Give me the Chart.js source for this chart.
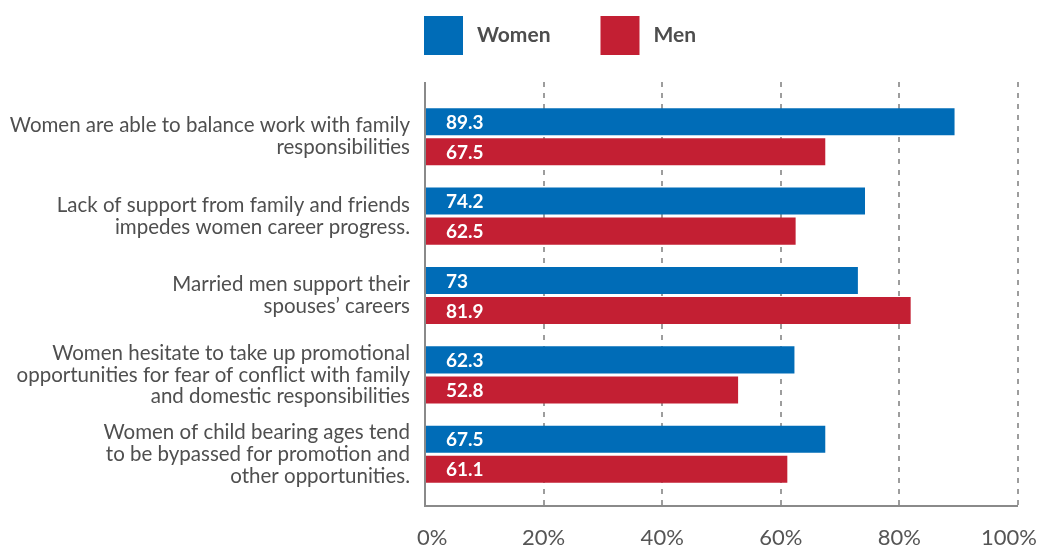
<!DOCTYPE html>
<html>
<head>
<meta charset="utf-8">
<script src="https://cdn.jsdelivr.net/npm/chart.js@4.4.1/dist/chart.umd.min.js"></script>
<style>
  html, body { margin: 0; background: #fff; }
  #wrap { width: 1039px; height: 548px; position: relative; }
</style>
</head>
<body>
<div id="wrap"><canvas id="myChart"></canvas></div>
<script>
const categories = [
  ["Women are able to balance work with family", "responsibilities"],
  ["Lack of support from family and friends", "impedes women career progress."],
  ["Married men support their", "spouses\u2019 careers"],
  ["Women hesitate to take up promotional", "opportunities for fear of conflict with family", "and domestic responsibilities"],
  ["Women of child bearing ages tend", "to be bypassed for promotion and", "other opportunities."],
];
const women = [89.3, 74.2, 73, 62.3, 67.5];
const men = [67.5, 62.5, 81.9, 52.8, 61.1];
const xTicks = [0, 20, 40, 60, 80, 100];

const BLUE = "#006cb7";
const RED = "#c31f33";
const FONT = "Lato, 'Open Sans', sans-serif";

const myChart = document.getElementById("myChart").getContext("2d");

// dashed gridlines, axis lines, tick labels, bar values and the legend
const decor = {
  id: "decor",
  beforeDatasetsDraw(chart) {
    const { ctx, chartArea } = chart;
    const x = chart.scales.x;
    const top = chartArea.top - 15;
    const bottom = chartArea.bottom + 12;
    ctx.save();
    ctx.strokeStyle = "#7d7d7d";
    ctx.lineWidth = 1.5;
    ctx.setLineDash([5, 6]);
    xTicks.forEach((v) => {
      if (v === 0) return;
      const px = Math.round(x.getPixelForValue(v));
      ctx.beginPath();
      ctx.moveTo(px, top);
      ctx.lineTo(px, bottom);
      ctx.stroke();
    });
    ctx.restore();
  },
  afterDatasetsDraw(chart) {
    const { ctx, chartArea, width } = chart;
    const x = chart.scales.x;
    const top = chartArea.top - 15;
    const bottom = chartArea.bottom + 12;
    const x0 = Math.round(x.getPixelForValue(0));
    const x100 = Math.round(x.getPixelForValue(100));

    // axis lines
    ctx.save();
    ctx.strokeStyle = "#8a8a8a";
    ctx.lineWidth = 2;
    ctx.beginPath();
    ctx.moveTo(x0, top);
    ctx.lineTo(x0, bottom);
    ctx.lineTo(x100, bottom);
    ctx.stroke();

    // x tick labels
    ctx.fillStyle = "#555";
    ctx.font = "22px " + FONT;
    ctx.textAlign = "center";
    ctx.textBaseline = "middle";
    xTicks.forEach((v) => {
      const label = v + "%";
      const w = ctx.measureText(label).width;
      let px = x.getPixelForValue(v);
      px = Math.max(px, x0 - 8 + w / 2);
      px = Math.min(px, width - 2 - w / 2);
      ctx.fillText(label, px, bottom + 32);
    });

    // values inside the bars
    ctx.fillStyle = "#fff";
    ctx.font = "bold 19px " + FONT;
    ctx.textAlign = "left";
    chart.data.datasets.forEach((ds, i) => {
      chart.getDatasetMeta(i).data.forEach((bar, j) => {
        ctx.fillText(String(ds.data[j]), chartArea.left + 21, bar.y + 1);
      });
    });

    // legend
    let lx = chartArea.left - 1;
    ctx.font = "bold 21px " + FONT;
    ctx.textBaseline = "middle";
    chart.data.datasets.forEach((ds) => {
      ctx.fillStyle = ds.backgroundColor;
      ctx.fillRect(lx, 16, 39, 39);
      lx += 39 + 14;
      ctx.fillStyle = "#4d4d4d";
      ctx.fillText(ds.label, lx, 35);
      lx += ctx.measureText(ds.label).width + 50;
    });
    ctx.restore();
  },
};

new Chart(myChart, {
  type: "bar",
  data: {
    labels: categories,
    datasets: [
      {
        label: "Women",
        data: women,
        backgroundColor: BLUE,
        categoryPercentage: 0.757,
        barPercentage: 0.9,
      },
      {
        label: "Men",
        data: men,
        backgroundColor: RED,
        categoryPercentage: 0.757,
        barPercentage: 0.9,
      },
    ],
  },
  options: {
    indexAxis: "y",
    responsive: true,
    maintainAspectRatio: false,
    animation: false,
    layout: { padding: { top: 97, right: 21, left: 0, bottom: 0 } },
    plugins: {
      legend: { display: false },
      title: { display: false },
      tooltip: { enabled: false },
    },
    scales: {
      x: {
        min: 0,
        max: 100,
        grid: { display: false, drawTicks: false },
        border: { display: false },
        ticks: { display: false, stepSize: 20 },
        afterFit: (scale) => {
          scale.height = 54;
          scale.paddingLeft = 0;
          scale.paddingRight = 0;
        },
      },
      y: {
        grid: { display: false, drawTicks: false },
        border: { display: false },
        ticks: {
          color: "#4f4f4f",
          padding: 15,
          font: { family: FONT, size: 20.5, lineHeight: 1.06 },
        },
        afterFit: (scale) => {
          scale.width = 425;
        },
      },
    },
  },
  plugins: [decor],
});
</script>
</body>
</html>
